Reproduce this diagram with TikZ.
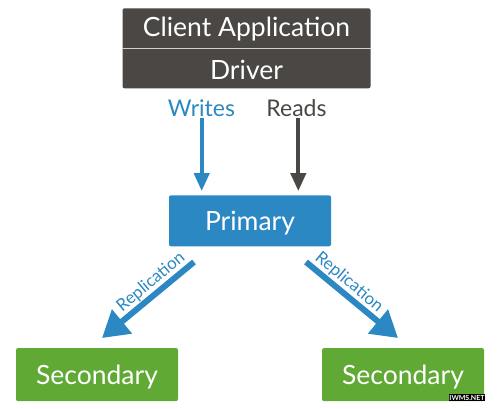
\documentclass[tikz,border=0pt]{standalone}
\usepackage{fontspec}
\setmainfont{Lato}
\usetikzlibrary{arrows.meta}
\definecolor{darkbox}{HTML}{4A4744}
\definecolor{bluebox}{HTML}{2B88C2}
\definecolor{greenbox}{HTML}{5FA934}
\tikzset{
  big/.style={inner sep=0pt, text=white, text height=19pt, text depth=0pt,
    font=\fontsize{26.5}{30}\selectfont},
  box/.style={big, rectangle, rounded corners=2pt},
  lbl/.style={inner sep=0pt, text height=16.7pt, text depth=0pt,
    font=\fontsize{23}{26}\selectfont},
  rlbl/.style={inner sep=0pt, text=bluebox, font=\fontsize{17}{20}\selectfont},
  thinarrow/.style={line width=4pt, shorten >=4pt, -{Triangle[width=15pt,length=18pt]}},
  fatarrow/.style={line width=6pt, bluebox, -{Triangle[width=30pt,length=26pt]}},
}
\begin{document}
\begin{tikzpicture}[x=1pt,y=-1pt]
\useasboundingbox (0,0) rectangle (500,409);
% top box
\node[rectangle, rounded corners=2pt, fill=darkbox, minimum width=248pt, minimum height=80pt, inner sep=0pt] (top) at (246.5,48.3) {};
\node[big] (client) at (246.5,27.2) {Client Application};
\node[big] (driver) at (246.5,70.5) {Driver};
\draw[white!75!darkbox, line width=1pt] (top.west |- 0,48.3) coordinate (dl) -- (top.east |- 0,48.3) coordinate (dr);
% labels
\node[lbl, text=bluebox] (writes) at (201.5,108.3) {Writes};
\node[lbl, text=darkbox] (reads) at (296.5,108.3) {Reads};
% primary
\node[box, fill=bluebox, minimum width=162pt, minimum height=51pt] (primary) at (250,220.8) {Primary};
% secondaries
\node[box, fill=greenbox, minimum width=162pt, minimum height=53pt] (sec1) at (97,374.6) {Secondary};
\node[box, fill=greenbox, minimum width=162pt, minimum height=53pt] (sec2) at (403,374.6) {Secondary};
% read/write arrows
\coordinate (ws) at (201.7,118);
\coordinate (rs) at (298.3,118);
\draw[thinarrow, bluebox] (ws) -- (ws |- primary.north) ;
\draw[thinarrow, darkbox] (rs) -- (rs |- primary.north);
% replication arrows
\coordinate (l1) at (194,262);
\coordinate (l2) at (102,338);
\coordinate (r1) at (306,262);
\coordinate (r2) at (398,338);
\draw[fatarrow] (l1) -- (l2);
\draw[fatarrow] (r1) -- (r2);
\node[rlbl, rotate=40] (repl) at (151,282) {Replication};
\node[rlbl, rotate=-40] (repr) at (349,282) {Replication};
% watermark
\node[inner sep=0.5pt, fill=black, text=white, font=\fontsize{7}{7}\bfseries\selectfont] (wm) at (467,397.5) {IWMS.NET};
\end{tikzpicture}
\end{document}
